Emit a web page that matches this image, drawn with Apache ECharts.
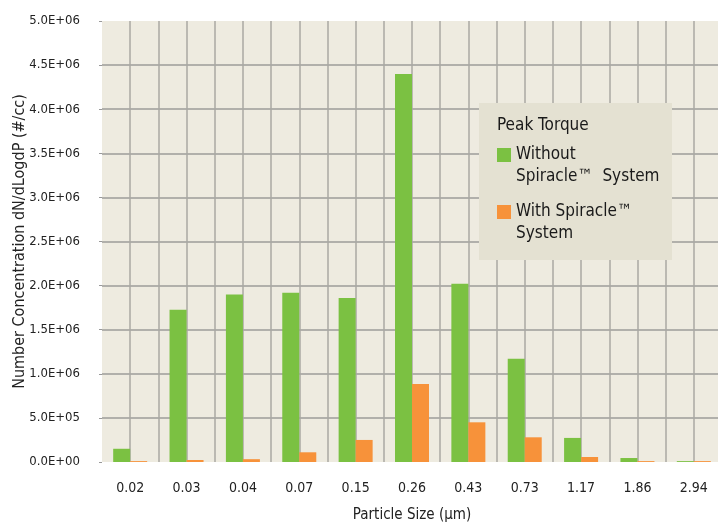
<!DOCTYPE html>
<html>
<head>
<meta charset="utf-8">
<script src="https://cdn.jsdelivr.net/npm/echarts@6/dist/echarts.min.js"></script>
<style>
html,body{margin:0;padding:0;background:#ffffff;}
#chart{width:718px;height:523px;}
</style>
</head>
<body>
<div id="chart"></div>
<script>
var categories = ['0.02','0.03','0.04','0.07','0.15','0.26','0.43','0.73','1.17','1.86','2.94'];
var withoutSpiracle = [150000, 1725000, 1900000, 1920000, 1860000, 4400000, 2020000, 1170000, 273000, 45000, 10000];
var withSpiracle = [10000, 23000, 32000, 110000, 250000, 885000, 450000, 280000, 57000, 10000, 10000];
var seriesNames = ['Without\nSpiracle\u2122  System', 'With Spiracle\u2122\nSystem'];
var legendTitle = 'Peak Torque';
var xAxisName = 'Particle Size (\u00b5m)';
var yAxisName = 'Number Concentration dN/dLogdP (#/cc)';

var FONT = "'Liberation Sans Narrow', 'DejaVu Sans Condensed', sans-serif";
var ICON = 'path://M0,0L14,0L14,14L0,14Z M0,36L0.01,36Z';

function sci(v) {
  if (v === 0) return '0.0E+00';
  var e = Math.floor(Math.log10(Math.abs(v)) + 1e-9);
  var m = v / Math.pow(10, e);
  var es = (e < 0 ? '-' : '+') + (Math.abs(e) < 10 ? '0' : '') + Math.abs(e);
  return m.toFixed(1) + 'E' + es;
}

var chart = echarts.init(document.getElementById('chart'), null, {renderer: 'canvas'});
var option = {
  backgroundColor: '#ffffff',
  animation: false,
  grid: {
    left: 102, right: -4, top: 21, bottom: 61,
    outerBoundsMode: 'none',
    containLabel: false,
    show: true, backgroundColor: '#eeebe0', borderWidth: 0
  },
  xAxis: [
    {
      type: 'category',
      data: categories,
      axisLine: {show: false},
      axisTick: {show: false},
      axisLabel: {color: '#222', fontSize: 14, fontFamily: FONT, margin: 19},
      splitLine: {show: false},
      name: xAxisName,
      nameLocation: 'middle',
      nameGap: 46,
      nameMoveOverlap: false,
      nameTextStyle: {color: '#222', fontSize: 15, fontFamily: FONT}
    },
    {
      type: 'value',
      min: 0, max: 11, interval: 0.5,
      position: 'bottom',
      axisLine: {show: false},
      axisTick: {show: false},
      axisLabel: {show: false},
      splitLine: {show: true, showMinLine: false, showMaxLine: false, lineStyle: {color: '#aaa9a3', width: 1.5}}
    }
  ],
  yAxis: {
    type: 'value',
    min: 0, max: 5000000, interval: 500000,
    axisLine: {show: false},
    axisTick: {show: true, length: 3, lineStyle: {color: '#999'}},
    axisLabel: {color: '#222', fontSize: 13, fontFamily: FONT, margin: 22, formatter: sci},
    splitLine: {show: true, showMinLine: false, showMaxLine: false, lineStyle: {color: '#9c9c9a', width: 1.5}},
    name: yAxisName,
    nameLocation: 'middle',
    nameGap: 74,
    nameMoveOverlap: false,
    nameTextStyle: {color: '#222', fontSize: 16, fontFamily: FONT}
  },
  legend: {
    orient: 'vertical',
    left: 497,
    top: 144,
    padding: 0,
    z: 20,
    itemWidth: 14,
    itemHeight: 36,
    itemGap: 13,
    icon: ICON,
    data: seriesNames,
    textStyle: {color: '#1a1a1a', fontSize: 17, fontFamily: FONT, lineHeight: 22}
  },
  graphic: [
    {
      type: 'rect', left: 479, top: 103, z: 15,
      shape: {width: 193, height: 157},
      style: {fill: '#e4e1d2'}
    },
    {
      type: 'text', left: 497, top: 117, z: 16,
      style: {text: legendTitle, fill: '#1a1a1a', font: '17px ' + FONT}
    }
  ],
  series: [
    {
      name: seriesNames[0], type: 'bar', xAxisIndex: 0,
      data: withoutSpiracle,
      barWidth: 17, barGap: '0%',
      itemStyle: {color: '#7bc142'}
    },
    {
      name: seriesNames[1], type: 'bar', xAxisIndex: 0,
      data: withSpiracle,
      barWidth: 17, barGap: '0%',
      itemStyle: {color: '#f7923a'}
    }
  ]
};
chart.setOption(option);
</script>
</body>
</html>
